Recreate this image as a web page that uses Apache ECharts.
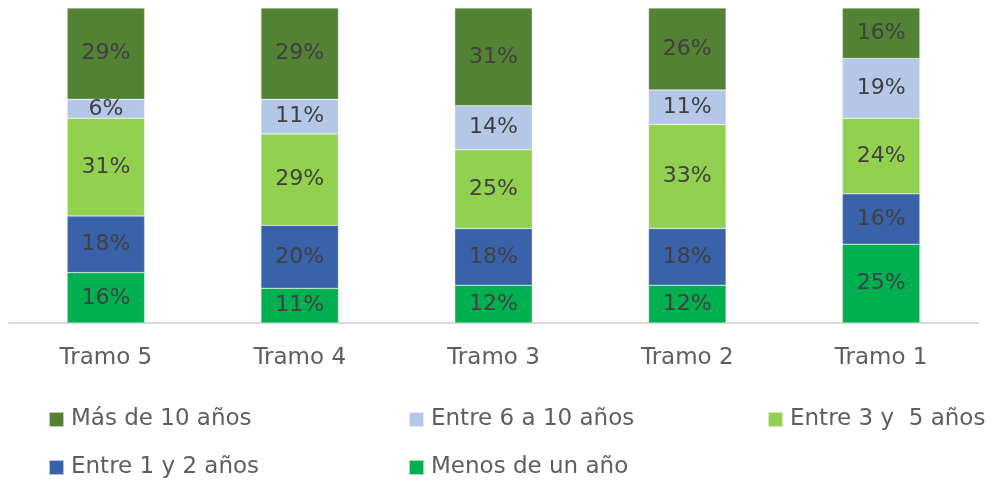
<!DOCTYPE html>
<html lang="es">
	<head>
		<meta charset="utf-8">
		<title>Tramos por antigüedad</title>
		<style>
			html, body { margin: 0; padding: 0; background: #fff; }
			#main { width: 1000px; height: 483px; }
		</style>
	</head>
	<body>
		<div id="main"></div>
		<script src="https://cdn.jsdelivr.net/npm/echarts@6/dist/echarts.min.js"></script>
		<script>
			var tramos = ['Tramo 5', 'Tramo 4', 'Tramo 3', 'Tramo 2', 'Tramo 1'];
			var menosUnAno = [16, 11, 12, 12, 25];
			var entre1y2 = [18, 20, 18, 18, 16];
			var entre3y5 = [31, 29, 25, 33, 24];
			var entre6a10 = [6, 11, 14, 11, 19];
			var masDe10 = [29, 29, 31, 26, 16];

			var fontFam = '"DejaVu Sans", sans-serif';

			function serie(name, data, color) {
				return {
					name: name,
					type: 'bar',
					stack: 'total',
					barWidth: '40%',
					data: data,
					itemStyle: { color: color, borderColor: 'rgba(255,255,255,0.6)', borderWidth: 0.5 },
					label: {
						show: true,
						position: 'inside',
						formatter: '{c}%',
						color: '#404040',
						fontSize: 22,
						fontFamily: fontFam
					}
				};
			}

			function leyenda(name, left, top) {
				return {
					data: [name],
					left: left,
					top: top,
					padding: 0,
					icon: 'rect',
					itemWidth: 15,
					itemHeight: 15,
					itemGap: 0,
					textStyle: { color: '#5e5e5e', fontSize: 23, fontFamily: fontFam, padding: [0, 0, 0, 2] }
				};
			}

			var myChart = echarts.init(document.getElementById('main'));
			var option = {
				animation: false,
				grid: { left: 9, right: 22, top: 8, bottom: 160, containLabel: false },
				legend: [
					leyenda('Más de 10 años', 48, 408),
					leyenda('Entre 6 a 10 años', 408, 408),
					leyenda('Entre 3 y  5 años', 767, 408),
					leyenda('Entre 1 y 2 años', 48, 456),
					leyenda('Menos de un año', 408, 456)
				],
				xAxis: {
					type: 'category',
					data: tramos,
					axisLine: { lineStyle: { color: '#d9d9d9', width: 2 } },
					axisTick: { show: false },
					axisLabel: { color: '#5e5e5e', fontSize: 23, fontFamily: fontFam, margin: 24 }
				},
				yAxis: {
					type: 'value',
					min: 0,
					max: 100,
					show: false,
					splitLine: { show: false }
				},
				series: [
					serie('Menos de un año', menosUnAno, '#00b050'),
					serie('Entre 1 y 2 años', entre1y2, '#3a62ab'),
					serie('Entre 3 y  5 años', entre3y5, '#92d050'),
					serie('Entre 6 a 10 años', entre6a10, '#b4c7e7'),
					serie('Más de 10 años', masDe10, '#548235')
				]
			};
			myChart.setOption(option);
			window.addEventListener('resize', function() {
				myChart.resize();
			});
		</script>
	</body>
</html>
